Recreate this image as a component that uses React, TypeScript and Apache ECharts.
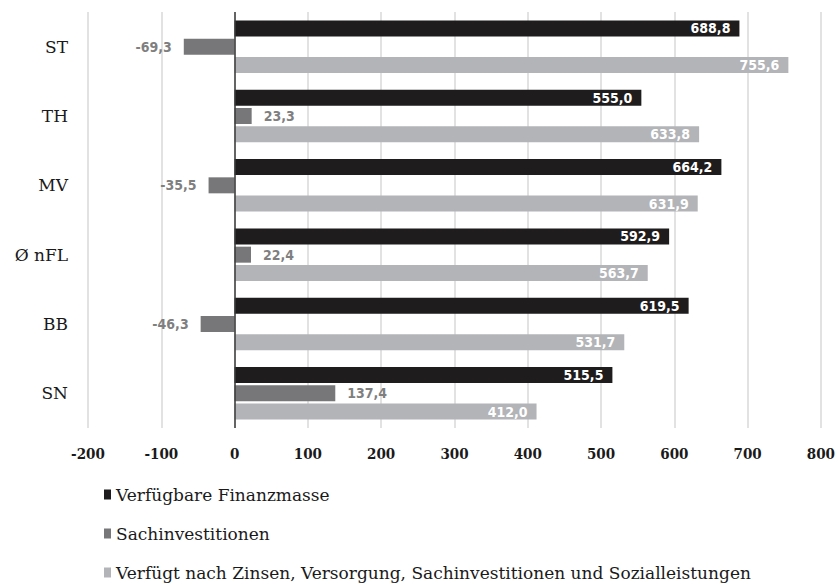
import React, { useEffect, useRef } from "react";
import * as echarts from "echarts";

const categories = ["ST", "TH", "MV", "Ø nFL", "BB", "SN"];
const seriesNames = [
  "Verfügbare Finanzmasse",
  "Sachinvestitionen",
  "Verfügt nach Zinsen, Versorgung, Sachinvestitionen und Sozialleistungen",
];
const finanzmasse = [688.8, 555.0, 664.2, 592.9, 619.5, 515.5];
const sachinvest = [-69.3, 23.3, -35.5, 22.4, -46.3, 137.4];
const verfuegt = [755.6, 633.8, 631.9, 563.7, 531.7, 412.0];
const colors = ["#1e1c1d", "#77777a", "#b3b4b7"];

const fmt = (v: number) => v.toFixed(1).replace(".", ",");
const SERIF = "'DejaVu Serif', serif";
const SERIF_COND = "'DejaVu Serif Condensed', 'DejaVu Serif', serif";
const SANS = "'DejaVu Sans Condensed', 'Open Sans', sans-serif";

export default function App() {
  const ref = useRef<HTMLDivElement>(null);
  useEffect(() => {
    if (!ref.current) return;
    const chart = echarts.init(ref.current, undefined, { renderer: "svg" });
    const insideLabel = {
      show: true,
      position: "insideRight" as const,
      distance: 9,
      color: "#ffffff",
      fontFamily: SANS,
      fontWeight: "bold" as const,
      fontSize: 14,
      formatter: (p: any) => fmt(p.value),
    };
    chart.setOption({
      animation: false,
      backgroundColor: "#ffffff",
      grid: { left: 88, right: 15, top: 12, bottom: 156 },
      xAxis: {
        type: "value",
        min: -200,
        max: 800,
        interval: 100,
        axisLine: { show: false },
        axisTick: { show: false },
        splitLine: { show: true, lineStyle: { color: "#d9d9d9", width: 1.5 } },
        axisLabel: {
          margin: 18,
          color: "#1a1a1a",
          fontFamily: SERIF_COND,
          fontWeight: "bold",
          fontSize: 15,
        },
      },
      yAxis: {
        type: "category",
        inverse: true,
        data: categories,
        axisLine: { show: false },
        axisTick: { show: false },
        axisLabel: {
          margin: 20,
          color: "#1a1a1a",
          fontFamily: SERIF,
          fontSize: 17,
        },
      },
      legend: {
        orient: "vertical",
        left: 104,
        top: 486,
        height: 120,
        padding: 0,
        icon: "rect",
        itemWidth: 7,
        itemHeight: 10,
        itemGap: 22,
        textStyle: {
          color: "#1a1a1a",
          fontFamily: SERIF,
          fontSize: 17,
          lineHeight: 17,
        },
        data: seriesNames,
      },
      series: [
        {
          name: seriesNames[0],
          type: "bar",
          data: finanzmasse,
          barWidth: 16,
          barGap: "14%",
          itemStyle: { color: colors[0] },
          label: insideLabel,
          markLine: {
            silent: true,
            symbol: "none",
            label: { show: false },
            lineStyle: { color: "#3a3a3a", width: 1.5, type: "solid" },
            data: [{ xAxis: 0 }],
          },
        },
        {
          name: seriesNames[1],
          type: "bar",
          barWidth: 16,
          barGap: "14%",
          itemStyle: { color: colors[1] },
          data: sachinvest.map((v) => ({
            value: v,
            label: { position: v < 0 ? "left" : "right" },
          })),
          label: {
            show: true,
            distance: 12,
            color: "#7f7f7f",
            fontFamily: SANS,
            fontWeight: "bold",
            fontSize: 14,
            formatter: (p: any) => fmt(p.value),
          },
        },
        {
          name: seriesNames[2],
          type: "bar",
          data: verfuegt,
          barWidth: 16,
          barGap: "14%",
          itemStyle: { color: colors[2] },
          label: insideLabel,
        },
      ],
    });
    return () => chart.dispose();
  }, []);
  return (
    <div
      ref={ref}
      style={{ position: "absolute", left: 0, top: 0, width: 838, height: 584 }}
    />
  );
}
